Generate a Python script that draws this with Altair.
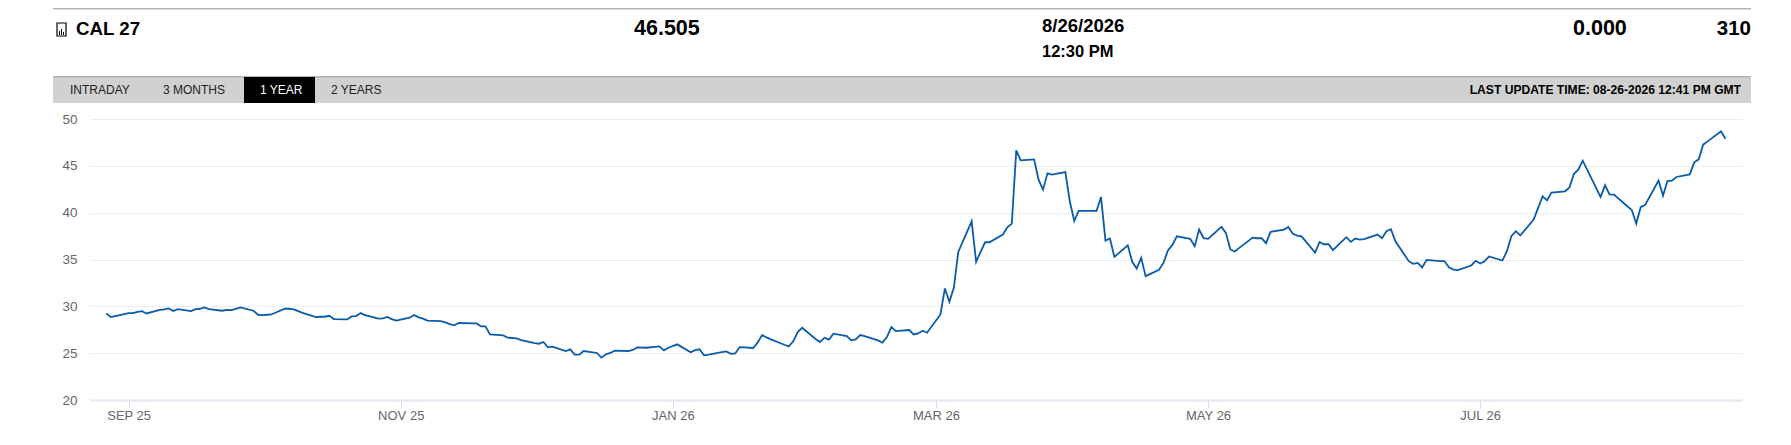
import altair as alt
import pandas as pd

# ---- data -----------------------------------------------------------------
HOLIDAYS = ["2025-12-25", "2026-01-01"]
AUG25 = [29.24, 28.85, 28.96]
SEP25 = [29.28, 29.28, 29.42, 29.49, 29.24, 29.63, 29.67, 29.77, 29.49, 29.70, 29.49,
         29.70, 29.74, 29.88, 29.70, 29.53, 29.63, 29.60, 29.74, 29.88, 29.53, 29.10]
OCT25 = [29.06, 29.10, 29.13, 29.74, 29.74, 29.67, 29.49, 29.31, 28.85, 28.89, 28.89,
         28.99, 28.64, 28.60, 28.92, 28.96, 29.28, 29.06, 28.68, 28.71, 28.86, 28.64, 28.47]
NOV25 = [28.79, 29.07, 28.82, 28.68, 28.47, 28.43, 28.29, 28.11, 27.97, 28.22, 28.18,
         28.18, 27.86, 27.86, 27.01, 26.90, 26.65, 26.62, 26.58, 26.40]
DEC25 = [26.08, 26.01, 26.19, 25.62, 25.69, 25.23, 25.41, 24.84, 24.84, 25.23, 25.02,
         24.52, 24.88, 25.02, 25.27, 25.23, 25.34, 25.62, 25.58, 25.73, 25.30, 25.58]
JAN26 = [25.94, 25.09, 25.33, 25.41, 24.77, 24.84, 25.10, 25.19, 24.94, 24.98, 25.65,
         25.55, 26.12, 26.93, 26.68, 26.47, 25.90, 25.73, 26.26, 27.25, 27.71]
FEB26 = [26.51, 26.19, 26.65, 26.44, 27.08, 26.83, 26.37, 26.47, 26.93, 26.83, 26.37,
         26.12, 26.72, 27.79, 27.36, 27.47, 27.00, 27.11, 27.39, 27.18]
MAR26 = [29.13, 31.91, 30.48, 31.98, 35.81, 39.08, 34.75, 35.81, 36.84, 36.84, 37.66,
         38.44, 38.83, 46.65, 45.59, 45.69, 43.53, 42.46, 44.20, 44.06, 44.34, 41.22]
APR26 = [39.12, 40.19, 40.19, 40.19, 41.68, 37.02, 37.24, 35.28, 36.52, 34.75, 34.04,
         35.17, 33.22, 33.90, 34.64, 35.96, 36.56, 37.48, 37.20, 36.42, 38.20, 37.27]
MAY26 = [37.20, 38.48, 37.84, 36.07, 35.85, 36.24, 37.34, 37.27, 37.27, 36.74, 37.95,
         38.20, 38.48, 37.74, 37.56, 37.45, 35.75, 36.88, 36.63, 36.63, 36.00]
JUN26 = [37.38, 36.88, 37.24, 37.13, 37.17, 37.66, 37.27, 38.02, 38.23, 36.95, 34.82,
         34.54, 34.64, 34.15, 34.96, 34.82, 34.82, 34.18, 33.93, 33.86, 34.36, 34.86]
JUL26 = [34.57, 34.82, 35.32, 34.89, 35.89, 37.49, 38.02, 37.56, 39.26, 40.51, 41.75,
         41.32, 42.14, 42.28, 42.67, 44.13, 44.59, 45.55, 42.64, 41.68, 42.92, 41.96, 41.93]
AUG26 = [40.68, 40.29, 38.84, 40.58, 40.83, 43.42, 41.82, 43.38, 43.42, 43.81, 44.09,
         45.37, 45.69, 47.26, 47.61, 48.68, 47.90]

TICK_DATES = ["2025-09-01", "2025-11-01", "2026-01-01", "2026-03-01", "2026-05-01", "2026-07-01"]
Y_TICKS = [20, 25, 30, 35, 40, 45, 50]
TABS = ["INTRADAY", "3 MONTHS", "1 YEAR", "2 YEARS"]

values = AUG25 + SEP25 + OCT25 + NOV25 + DEC25 + JAN26 + FEB26 + MAR26 + APR26 + MAY26 + JUN26 + JUL26 + AUG26
days = pd.bdate_range("2025-08-27", "2026-08-25")
days = [d.strftime("%Y-%m-%d") for d in days if d.strftime("%Y-%m-%d") not in HOLIDAYS]
df = pd.DataFrame({"date": days, "price": values})

# ---- layout ------------------------------------------------------------------
OX, OY = 90, 119            # page position of the plot origin
PW, PH = 1652, 281
FONT = "Liberation Sans"
one = pd.DataFrame({"k": [0]})


def rect(x0, y0, x1, y1, fill, **kw):
    return alt.Chart(one).mark_rect(fill=fill, **kw).encode(
        x=alt.value(x0 - OX), x2=alt.value(x1 - OX),
        y=alt.value(y0 - OY), y2=alt.value(y1 - OY))


def label(txt, x, y, size, color="#000000", weight="bold", align="left"):
    return alt.Chart(one).mark_text(
        font=FONT, fontSize=size, fontWeight=weight, color=color, align=align,
        baseline="alphabetic").encode(
        x=alt.value(x - OX), y=alt.value(y - OY), text=alt.value(txt))


line = alt.Chart(df).mark_line(color="#0a5ca8", strokeWidth=1.8, interpolate="linear").encode(
    x=alt.X("date:T", title=None,
            scale=alt.Scale(type="utc", domain=["2025-08-23T08:00:00Z", "2026-08-28T17:00:00Z"]),
            axis=alt.Axis(values=TICK_DATES, labelExpr="upper(utcFormat(datum.value, '%b %y'))",
                          grid=False, domainColor="#e3e8f2", domainWidth=2, tickColor="#d6deee",
                          tickSize=8, labelColor="#666666", labelFont=FONT, labelFontSize=13,
                          labelPadding=1, labelOverlap=False)),
    y=alt.Y("price:Q", title=None,
            scale=alt.Scale(domain=[20, 50], nice=False),
            axis=alt.Axis(values=Y_TICKS, grid=True, gridColor="#eceef2", gridWidth=1.2, domain=False,
                          ticks=False, labelColor="#666666", labelFont=FONT, labelFontSize=13.5,
                          labelPadding=13)),
)

chart = alt.layer(
    rect(53, 8, 1751, 9.5, "#b4b4b4"),
    rect(53, 76, 1751, 103, "#d1d1d1"),
    rect(53, 76, 1751, 77.5, "#b4b4b4"),
    rect(244, 77, 315, 103, "#000000"),
    rect(57, 23, 66, 36, "#ffffff", stroke="#000000", strokeWidth=1.2),
    rect(59, 31, 60, 35, "#000000"),
    rect(61, 29, 62, 35, "#000000"),
    rect(63, 32, 64, 35, "#000000"),
    label("CAL 27", 76, 35, 18.7),
    label("46.505", 634, 35, 21.5),
    label("8/26/2026", 1042, 32, 18.5),
    label("12:30 PM", 1042, 57, 16.5),
    label("0.000", 1573, 35, 21.5),
    label("310", 1751, 35, 20.5, align="right"),
    label(TABS[0], 70, 94, 12, color="#222222", weight="normal"),
    label(TABS[1], 163, 94, 12, color="#222222", weight="normal"),
    label(TABS[2], 260, 94, 12, color="#ffffff", weight="normal"),
    label(TABS[3], 331, 94, 12, color="#222222", weight="normal"),
    label("LAST UPDATE TIME: 08-26-2026 12:41 PM GMT", 1741, 94, 12.1, align="right"),
    line,
).properties(
    width=PW, height=PH,
    autosize=alt.AutoSizeParams(type="none"),
    padding={"left": OX - 8, "top": OY - 8, "right": 41, "bottom": 37},
).configure_view(stroke=None)

chart.save("out.html", embed_options={"renderer": "svg", "actions": False})
